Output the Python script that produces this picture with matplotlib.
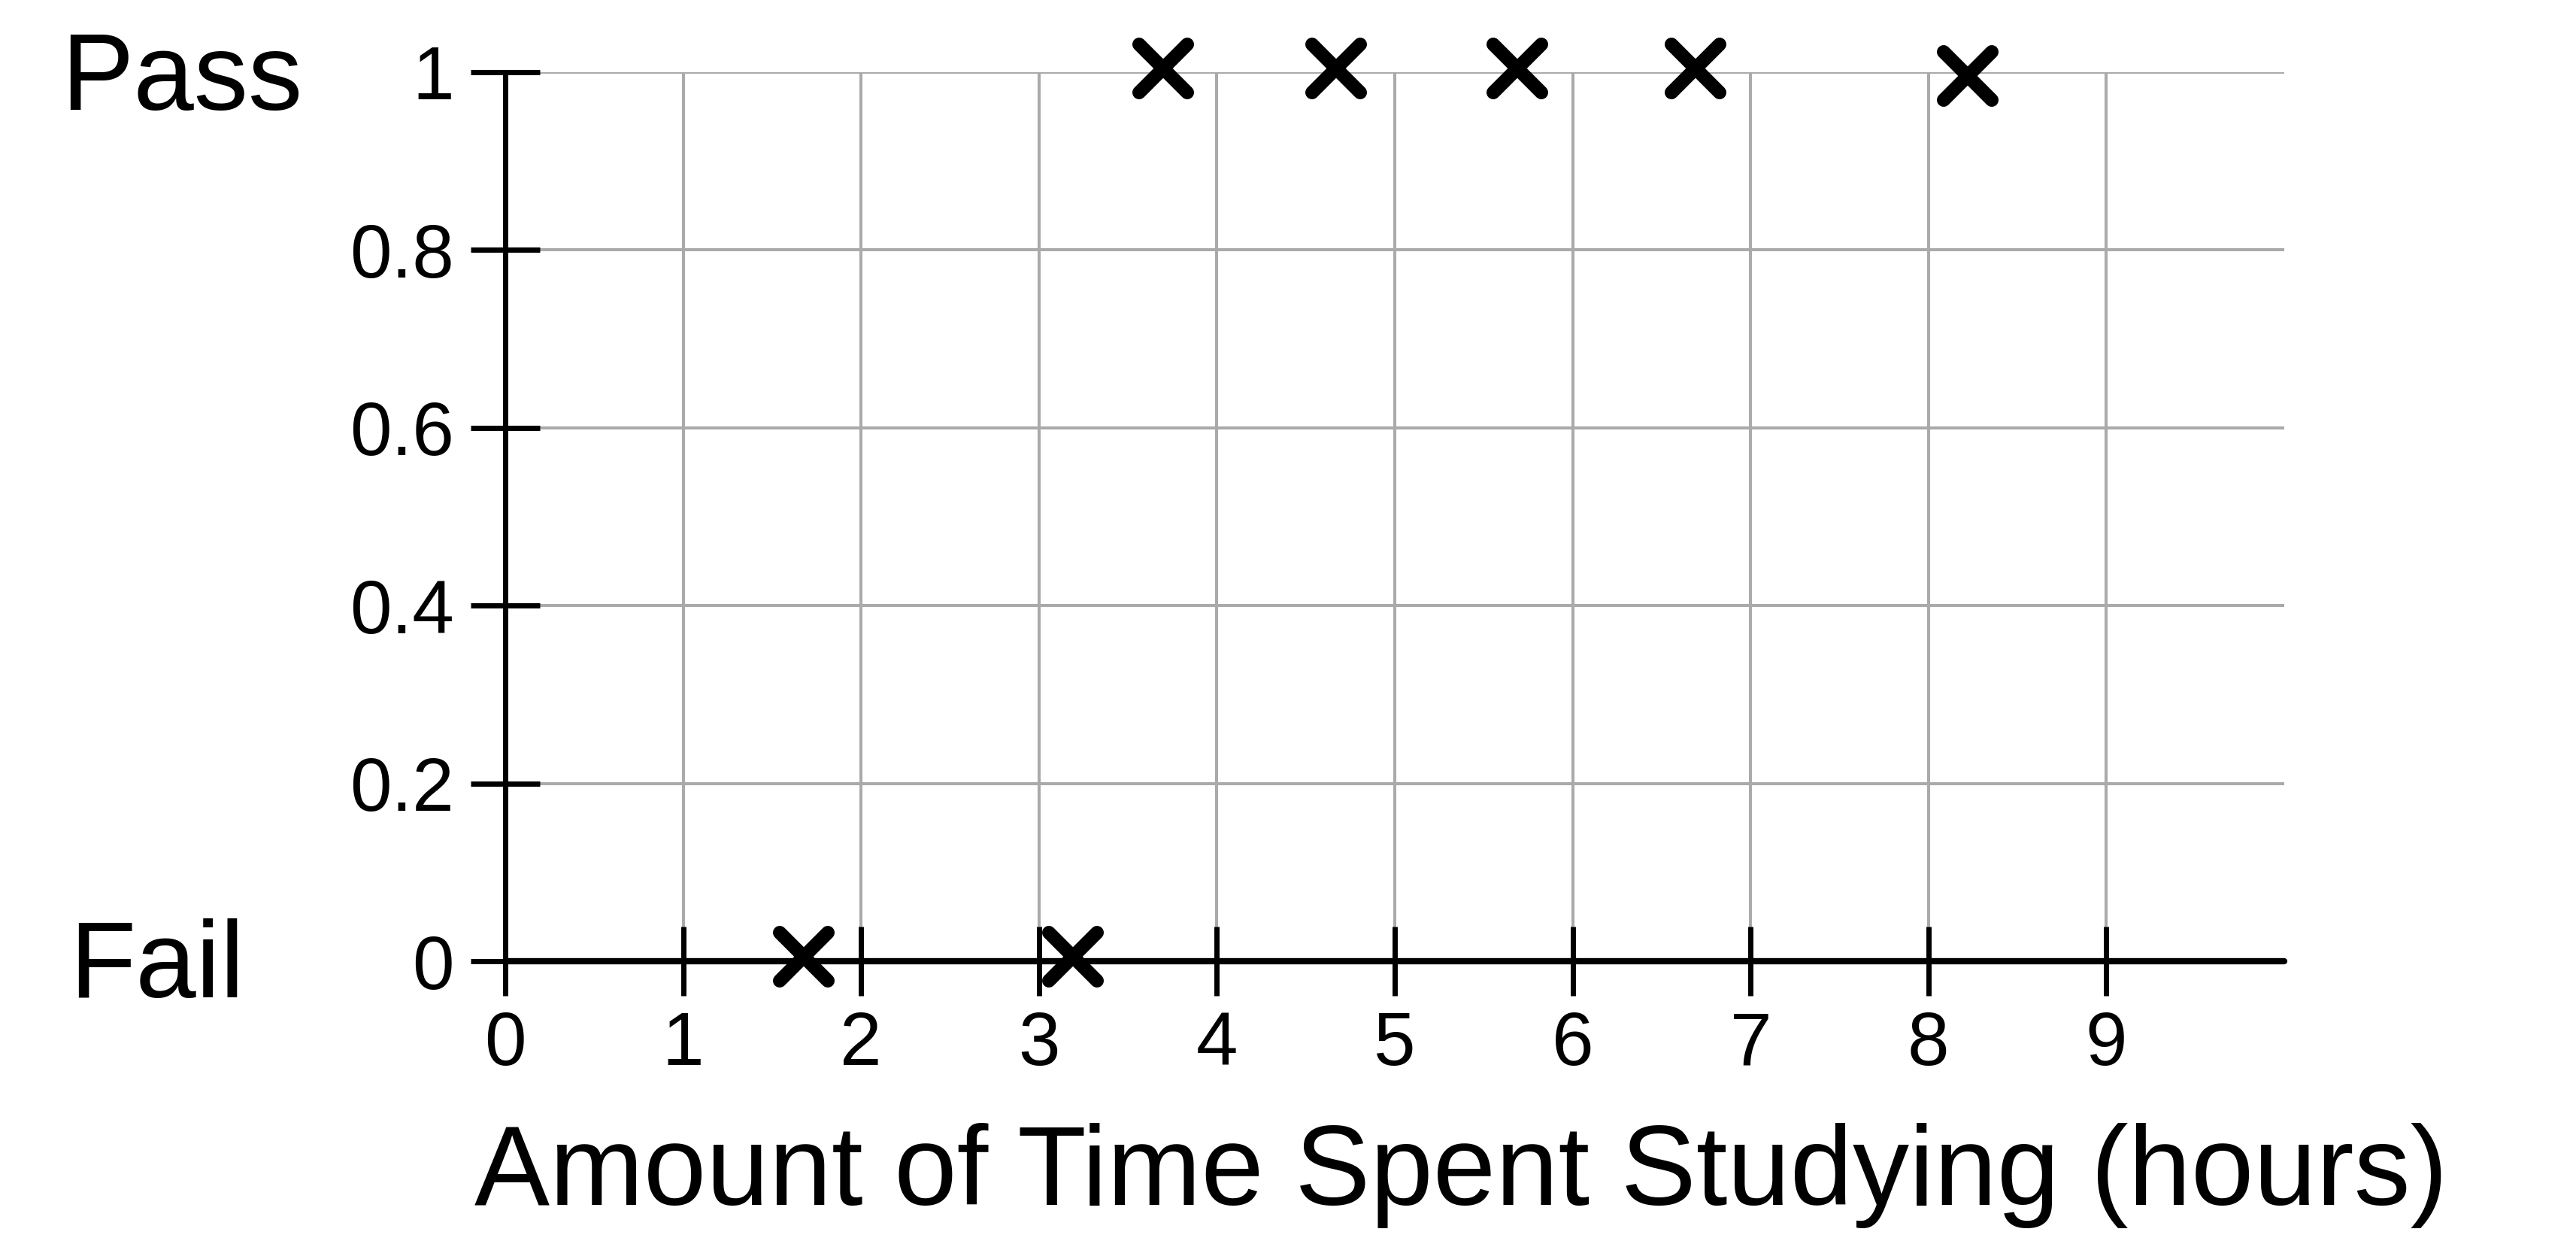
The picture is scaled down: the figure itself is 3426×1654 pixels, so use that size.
import matplotlib
matplotlib.use("Agg")
import matplotlib.pyplot as plt
from matplotlib.markers import MarkerStyle

plt.rcParams['font.family'] = ['Liberation Sans', 'DejaVu Sans']

# Data
hours = [1.68, 3.19, 3.70, 4.67, 5.69, 6.69, 8.22]
passed = [0.005, 0.005, 1.004, 1.004, 1.004, 1.004, 0.996]
xticks = [0, 1, 2, 3, 4, 5, 6, 7, 8, 9]
yticks = [0, 0.2, 0.4, 0.6, 0.8, 1]
ytick_labels = ['0', '0.2', '0.4', '0.6', '0.8', '1']
xlabel = 'Amount of Time Spent Studying (hours)'
pass_label = 'Pass'
fail_label = 'Fail'

W, H = 3426, 1654
fig = plt.figure(figsize=(W / 100, H / 100), dpi=100)
ax = fig.add_axes([672 / W, 1 - 1278 / H, 2366 / W, 1182 / H])

ax.set_xlim(0, 10)
ax.set_ylim(0, 1)

ax.set_xticks(xticks)
ax.set_xticklabels([str(t) for t in xticks])
ax.set_yticks(yticks)
ax.set_yticklabels(ytick_labels)

ax.tick_params(axis='both', direction='inout', length=66, width=5,
               color='black', labelsize=72, pad=16)
ax.tick_params(axis='x', pad=14)

for s in ['top', 'right']:
    ax.spines[s].set_visible(False)
ax.spines['left'].set_linewidth(5)
ax.spines['bottom'].set_linewidth(6)
for s in ['left', 'bottom']:
    ax.spines[s].set_capstyle('round')

ax.grid(True, color='#aaaaaa', linewidth=2.9, zorder=0)
ax.set_axisbelow(True)

m = MarkerStyle('x', capstyle='round')
ax.plot(hours, passed, linestyle='none', marker=m, markersize=46,
        markeredgewidth=13, color='black', clip_on=False, zorder=5)

fig.text(81 / W, 1 - 146 / H, pass_label, fontsize=104, ha='left', va='baseline')
fig.text(92 / W, 1 - 1326 / H, fail_label, fontsize=104, ha='left', va='baseline')
fig.text(1943 / W, 1 - 1602 / H, xlabel, fontsize=108, ha='center', va='baseline')

fig.savefig('out.png', dpi=100)
